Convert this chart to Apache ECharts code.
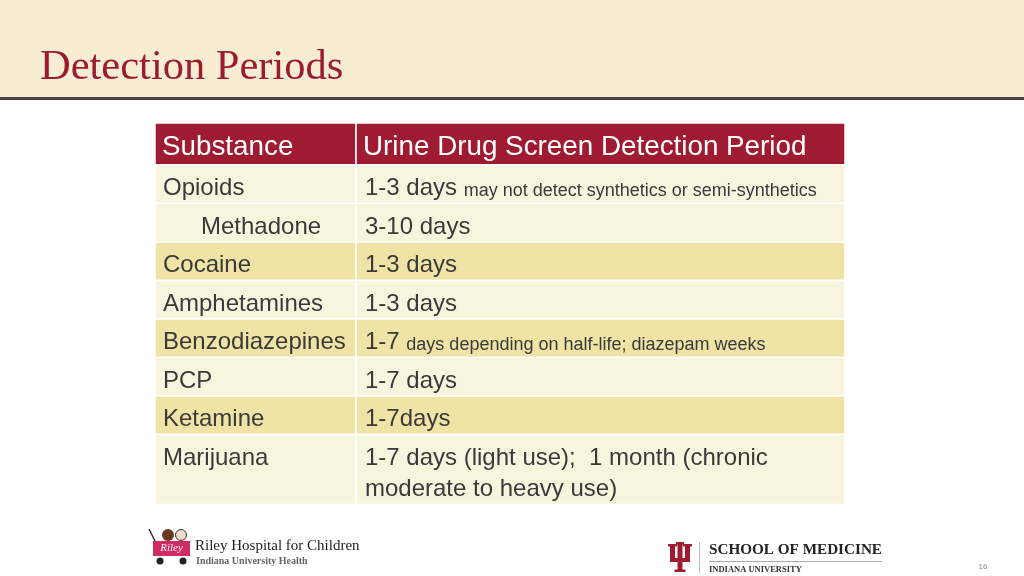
<!DOCTYPE html>
<html><head><meta charset="utf-8">
<script src="https://cdn.jsdelivr.net/npm/echarts@6/dist/echarts.min.js"></script>
<style>html,body{margin:0;padding:0;background:#fff}#c{width:1024px;height:576px}</style>
</head><body><div id="c"></div>
<script>
// ---------- data ----------
const slideTitle = 'Detection Periods';
const headers = ['Substance', 'Urine Drug Screen Detection Period'];
const substances = ['Opioids', 'Methadone', 'Cocaine', 'Amphetamines', 'Benzodiazepines', 'PCP', 'Ketamine', 'Marijuana'];
const levels = [0, 1, 0, 0, 0, 0, 0, 0]; // 1 = sub-item of the row above
const periods = ['1-3 days', '3-10 days', '1-3 days', '1-3 days', '1-7', '1-7 days', '1-7days',
  '1-7 days (light use);  1 month (chronic moderate to heavy use)'];
const notes = ['may not detect synthetics or semi-synthetics', '', '', '', 'days depending on half-life; diazepam weeks', '', '', ''];
const pageNumber = '16';

// ---------- layout / style ----------
const FONT = '"Liberation Sans", Arial, sans-serif';
const SERIF = '"Liberation Serif", "Times New Roman", serif';
const BODY_SIZE = 24, NOTE_SIZE = 18, HEAD_SIZE = 27.8;
const BODY_LH = 31.5, HEAD_LH = 35, ROW_PAD = 7;
const TABLE_LEFT = 155, TABLE_WIDTH = 690, TABLE_TOP = 123;
const COL_SPLIT = 0.2913;
const CELL_PAD = 8, INDENT = 38;
const CRIMSON = '#9E1B32', LIGHT = '#F8F5DF', DARK = '#EFE3A5', TEXT = '#3A3A3A';

const cv = document.createElement('canvas').getContext('2d');
function countLines(text, size, maxW) {
  cv.font = size + 'px ' + FONT;
  const words = text.split(' ');
  let lines = 1, cur = '';
  words.forEach(w => {
    const t = cur === '' ? w : cur + ' ' + w;
    if (cur !== '' && cv.measureText(t).width > maxW) { lines++; cur = w; } else cur = t;
  });
  return lines;
}
const col2W = TABLE_WIDTH * (1 - COL_SPLIT) - 2 * CELL_PAD;

// row bounds (in px units of the table scale)
const bounds = [];
let acc = 0;
bounds.push([acc, acc + ROW_PAD + HEAD_LH]); acc += ROW_PAD + HEAD_LH;
substances.forEach((s, i) => {
  const lines = notes[i] ? 1 : countLines(periods[i], BODY_SIZE, col2W);
  const h = ROW_PAD + lines * BODY_LH;
  bounds.push([acc, acc + h]); acc += h;
});
const total = acc;

// banding groups: sub-items share their parent's band
const groups = [];
let g = -1;
levels.forEach(l => { if (l === 0) g++; groups.push(g); });

const cells = [];
for (let r = 0; r <= substances.length; r++) {
  for (let c = 0; c < 2; c++) cells.push([c, bounds[r][0], bounds[r][1], r]);
}

const TEXT_DY = 8;
function renderItem(params, api) {
  const c = api.value(0), y0 = api.value(1), y1 = api.value(2), r = api.value(3);
  const xa = c === 0 ? 0 : COL_SPLIT, xb = c === 0 ? COL_SPLIT : 1;
  const p0 = api.coord([xa, y0]), p1 = api.coord([xb, y1]);
  const x = p0[0], y = p0[1], w = p1[0] - p0[0], h = p1[1] - p0[1];
  let fill, textEl;
  if (r === 0) {
    fill = CRIMSON;
    textEl = { type: 'text', x: x + CELL_PAD - 1, y: y + ROW_PAD / 2 + 3.5,
      style: { text: headers[c], fill: '#fff', fontSize: HEAD_SIZE, fontFamily: FONT,
        lineHeight: HEAD_LH, verticalAlign: 'top', align: 'left' } };
  } else {
    const i = r - 1;
    fill = groups[i] % 2 === 0 ? LIGHT : DARK;
    if (c === 0) {
      textEl = { type: 'text', x: x + CELL_PAD + levels[i] * INDENT, y: y + TEXT_DY,
        style: { text: substances[i], fill: TEXT, fontSize: BODY_SIZE, fontFamily: FONT,
          lineHeight: BODY_LH, verticalAlign: 'top', align: 'left' } };
    } else if (notes[i]) {
      textEl = { type: 'text', x: x + CELL_PAD + 1, y: y + TEXT_DY,
        style: { text: '{m|' + periods[i] + '} {n|' + notes[i] + '}', fill: TEXT,
          fontFamily: FONT, fontSize: BODY_SIZE, lineHeight: BODY_LH, verticalAlign: 'top', align: 'left',
          rich: {
            m: { fontSize: BODY_SIZE, fontFamily: FONT, fill: TEXT, lineHeight: BODY_LH, verticalAlign: 'middle' },
            n: { fontSize: NOTE_SIZE, fontFamily: FONT, fill: TEXT, lineHeight: BODY_LH, verticalAlign: 'middle', padding: [4, 0, 0, 0] }
          } } };
    } else {
      textEl = { type: 'text', x: x + CELL_PAD + 1, y: y + TEXT_DY,
        style: { text: periods[i], fill: TEXT, fontSize: BODY_SIZE, fontFamily: FONT,
          lineHeight: BODY_LH, verticalAlign: 'top', align: 'left', width: col2W, overflow: 'break' } };
    }
  }
  return { type: 'group', children: [
    { type: 'rect', shape: { x: x, y: y, width: w, height: h },
      style: { fill: fill, stroke: '#fff', lineWidth: 1.5 } },
    textEl
  ] };
}

const chart = echarts.init(document.getElementById('c'), null, { renderer: 'canvas' });
chart.setOption({
  animation: false,
  backgroundColor: '#fff',
  title: { text: slideTitle, left: 40, top: 47, padding: 0,
    textStyle: { fontFamily: SERIF, fontSize: 42.5, fontWeight: 'normal', color: '#9B1C2E', lineHeight: 42 } },
  grid: { left: TABLE_LEFT, top: TABLE_TOP, width: TABLE_WIDTH, height: total, containLabel: false },
  xAxis: { type: 'value', min: 0, max: 1, show: false },
  yAxis: { type: 'value', min: 0, max: total, inverse: true, show: false },
  series: [{ type: 'custom', renderItem: renderItem, data: cells, clip: false, silent: true }],
  graphic: [
    { type: 'rect', z: -10, shape: { x: 0, y: 0, width: 1024, height: 97 }, style: { fill: '#F7EDD3' } },
    { type: 'rect', z: -9, shape: { x: 0, y: 97, width: 1024, height: 3 }, style: { fill: '#454545' } },
    // Riley wagon logo
    { type: 'line', shape: { x1: 149, y1: 529, x2: 157, y2: 545 }, style: { stroke: '#333', lineWidth: 1.5 } },
    { type: 'circle', shape: { cx: 168, cy: 535, r: 6 }, style: { fill: '#6B3A1E' } },
    { type: 'circle', shape: { cx: 181, cy: 535, r: 5.5 }, style: { fill: '#F4DCCB', stroke: '#333', lineWidth: 1 } },
    { type: 'rect', shape: { x: 153, y: 541, width: 37, height: 15 }, style: { fill: '#D22A63' } },
    { type: 'text', x: 171.5, y: 548.5, style: { text: 'Riley', fill: '#fff', fontFamily: SERIF, fontSize: 11, fontStyle: 'italic', align: 'center', verticalAlign: 'middle' } },
    { type: 'circle', shape: { cx: 160, cy: 561, r: 3.5 }, style: { fill: '#222' } },
    { type: 'circle', shape: { cx: 183, cy: 561, r: 3.5 }, style: { fill: '#222' } },
    { type: 'text', x: 195, y: 554, style: { text: 'Riley Hospital for Children', fill: '#1E1E1E', fontFamily: SERIF, fontSize: 15, verticalAlign: 'bottom' } },
    { type: 'text', x: 196, y: 566, style: { text: 'Indiana University Health', fill: '#666', fontFamily: SERIF, fontSize: 10, fontWeight: 'bold', verticalAlign: 'bottom' } },
    // IU trident
    { type: 'rect', shape: { x: 670, y: 544, width: 5, height: 18 }, style: { fill: CRIMSON } },
    { type: 'rect', shape: { x: 685, y: 544, width: 5, height: 18 }, style: { fill: CRIMSON } },
    { type: 'rect', shape: { x: 677.5, y: 542, width: 5, height: 29 }, style: { fill: CRIMSON } },
    { type: 'rect', shape: { x: 670, y: 558, width: 20, height: 4 }, style: { fill: CRIMSON } },
    { type: 'rect', shape: { x: 668, y: 544, width: 9, height: 2.5 }, style: { fill: CRIMSON } },
    { type: 'rect', shape: { x: 683, y: 544, width: 9, height: 2.5 }, style: { fill: CRIMSON } },
    { type: 'rect', shape: { x: 676, y: 542, width: 8, height: 2.5 }, style: { fill: CRIMSON } },
    { type: 'rect', shape: { x: 674.5, y: 569.5, width: 11, height: 2.5 }, style: { fill: CRIMSON } },
    { type: 'line', shape: { x1: 699.5, y1: 542, x2: 699.5, y2: 573 }, style: { stroke: '#BBB', lineWidth: 1 } },
    { type: 'text', x: 709, y: 558, style: { text: 'SCHOOL OF MEDICINE', fill: '#222', fontFamily: SERIF, fontSize: 15.2, fontWeight: 'bold', verticalAlign: 'bottom' } },
    { type: 'line', shape: { x1: 709, y1: 561.5, x2: 882, y2: 561.5 }, style: { stroke: '#AAA', lineWidth: 1 } },
    { type: 'text', x: 709, y: 574, style: { text: 'INDIANA UNIVERSITY', fill: '#333', fontFamily: SERIF, fontSize: 8.5, fontWeight: 'bold', verticalAlign: 'bottom' } },
    { type: 'text', x: 983, y: 567, style: { text: pageNumber, fill: '#888', fontFamily: FONT, fontSize: 8, align: 'center', verticalAlign: 'middle' } }
  ]
});
</script></body></html>
